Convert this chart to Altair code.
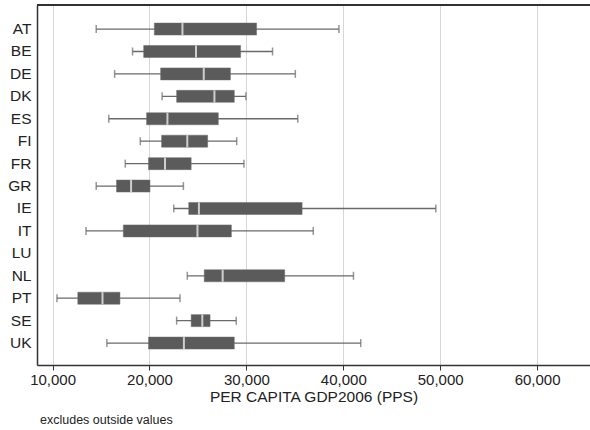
import altair as alt
import pandas as pd

# Per-capita GDP 2006 (PPS) by NUTS region, summarised per country
countries = ["AT", "BE", "DE", "DK", "ES", "FI", "FR", "GR",
             "IE", "IT", "LU", "NL", "PT", "SE", "UK"]
whisker_lo = [14500, 18250, 16400, 21300, 15800, 19050, 17500, 14500,
              22500, 13450, None, 23900, 10450, 22800, 15600]
q1 = [20500, 19400, 21150, 22800, 19700, 21250, 19900, 16600,
      24050, 17300, None, 25650, 12600, 24300, 19900]
median = [23400, 24800, 25600, 26700, 21850, 23900, 21600, 18100,
          25100, 24950, None, 27550, 15150, 25450, 23550]
q3 = [31050, 29400, 28350, 28750, 27100, 26000, 24300, 20050,
      35750, 28450, None, 33950, 16950, 26250, 28750]
whisker_hi = [39550, 32700, 35050, 29950, 35300, 29000, 29750, 23500,
              49550, 36900, None, 41050, 23150, 28950, 41800]

rows = [
    dict(country=c, lo=a, q1=b, med=m, q3=d, hi=e)
    for c, a, b, m, d, e in zip(countries, whisker_lo, q1, median, q3, whisker_hi)
    if m is not None
]
df = pd.DataFrame(rows)

W, H = 553, 360
BOX = "#5b5b5b"
LINE = "#6a6a6a"

x_scale = alt.Scale(domain=[8390, 65460], nice=False, zero=False)
y_scale = alt.Scale(domain=countries, paddingOuter=0.525, paddingInner=0, align=0.545)

x_axis = alt.Axis(
    values=[10000, 20000, 30000, 40000, 50000, 60000],
    format=",d",
    title="PER CAPITA GDP2006 (PPS)",
    grid=True, gridColor="#d6d6d6", gridWidth=1,
    ticks=True, tickColor="#333", tickSize=5,
    labelFontSize=15, labelColor="#222", labelPadding=2,
    titleFontSize=15.5, titleFontWeight="normal", titleColor="#222", titlePadding=2,
    domainColor="#333", domainWidth=1.5,
)
y_axis = alt.Axis(
    title=None, ticks=False, grid=False,
    labelFontSize=15.5, labelColor="#222", labelPadding=6,
    domainColor="#333", domainWidth=1.5,
)

base = alt.Chart(df)
y_enc = alt.Y("country:N", scale=y_scale, axis=y_axis, sort=countries)

whiskers = base.mark_rule(color=LINE, strokeWidth=1.3).encode(
    x=alt.X("lo:Q", scale=x_scale, axis=x_axis),
    x2="hi:Q",
    y=y_enc,
)
caps_lo = base.mark_tick(color=LINE, thickness=1.5, size=8).encode(
    x="lo:Q", y=alt.Y("country:N", sort=countries)
)
caps_hi = base.mark_tick(color=LINE, thickness=1.5, size=8).encode(
    x="hi:Q", y=alt.Y("country:N", sort=countries)
)
boxes = base.mark_bar(color=BOX, size=12, stroke=LINE, strokeWidth=0.5).encode(
    x="q1:Q", x2="q3:Q", y=alt.Y("country:N", sort=countries)
)
medians = base.mark_tick(color="white", thickness=2, size=12).encode(
    x="med:Q", y=alt.Y("country:N", sort=countries)
)

top_border = alt.Chart(df).mark_rule(color="#333", strokeWidth=1.5).encode(
    x=alt.value(0), x2=alt.value(W), y=alt.value(0)
)
note = alt.Chart(pd.DataFrame({"t": ["excludes outside values"]})).mark_text(
    align="left", baseline="middle", fontSize=12.5, color="#222", font="Liberation Sans"
).encode(x=alt.value(3), y=alt.value(415), text="t:N")

chart = alt.layer(whiskers, caps_lo, caps_hi, boxes, medians, top_border, note).properties(
    width=W, height=H,
    autosize=alt.AutoSizeParams(type="none"),
    padding={"left": 37, "top": 5, "right": 0, "bottom": 65},
).configure_view(stroke=None).configure(font="Liberation Sans")

chart.save("out.html", embed_options={"renderer": "svg", "actions": False})
